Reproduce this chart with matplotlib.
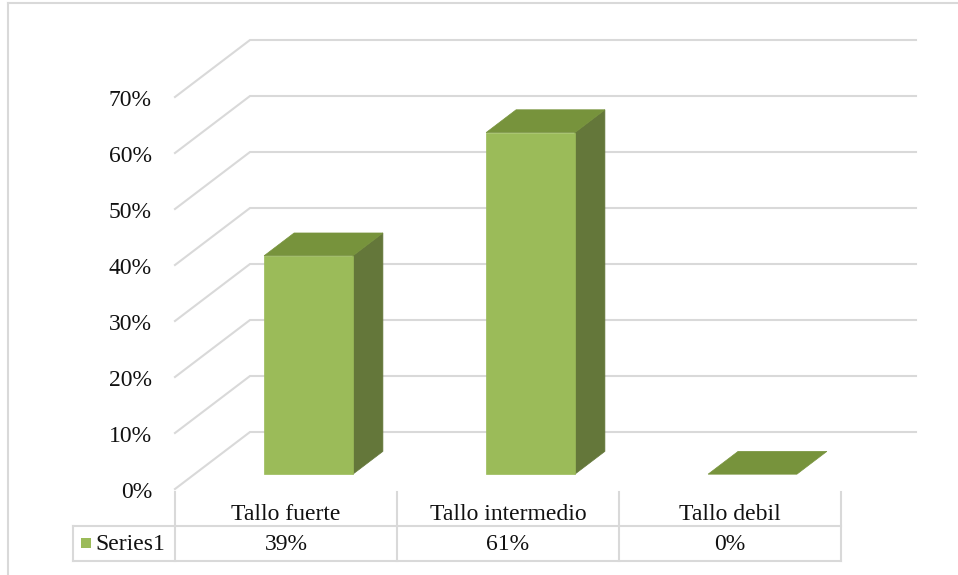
import numpy as np
import matplotlib.pyplot as plt
from matplotlib.patches import Polygon

categories = ['Tallo fuerte', 'Tallo intermedio', 'Tallo debil']
values = [0.39, 0.61, 0.0]
series_name = 'Series1'
ticks = [0.0, 0.1, 0.2, 0.3, 0.4, 0.5, 0.6, 0.7]

plt.rcParams['font.family'] = ['Liberation Serif', 'DejaVu Serif']

W, H = 958, 575
fig = plt.figure(figsize=(W / 100, H / 100), dpi=100)
# front plane of the plot: x 175..841 px, value 0 at y=489 px, 0.7 at y=97 px
ax = fig.add_axes([175 / W, (H - 489) / H, 666 / W, 392 / H])
ax.set_xlim(0, 3)
ax.set_ylim(0, 0.7)
ax.axis('off')

px_x = 3 / 666        # one pixel in x data units
px_y = 0.7 / 392      # one pixel in value units
depth = np.array([75 * px_x, 57 * px_y])   # full depth of the floor, oblique

grid_col = '#d9d9d9'
front_col = '#9bbb59'
top_col = '#77933c'
side_col = '#64773a'
txt_col = '#111111'
fs = 17


def at(x, v, d):
    return (x + d * depth[0], v + d * depth[1])


# gridlines: diagonal on the left wall, straight along the back wall
for t in ticks:
    pts = [at(0, t, 0), at(0, t, 1), at(3, t, 1)]
    xs, ys = zip(*pts)
    ax.plot(xs, ys, color=grid_col, lw=1.5, clip_on=False, zorder=1,
            solid_joinstyle='miter')
    ax.text(-23 * px_x, t - 3 * px_y, f'{t:.0%}', ha='right', va='center',
            fontsize=fs, color=txt_col)

# 3d columns
bw = 0.4
d1, d2 = 0.26, 0.66
for i, v in enumerate(values):
    x0 = i + 0.5 - bw / 2 + 3 * px_x
    x1 = x0 + bw
    faces = []
    if v > 0:
        faces.append(([at(x1, 0, d1), at(x1, 0, d2), at(x1, v, d2), at(x1, v, d1)], side_col))
        faces.append(([at(x0, 0, d1), at(x1, 0, d1), at(x1, v, d1), at(x0, v, d1)], front_col))
    faces.append(([at(x0, v, d1), at(x1, v, d1), at(x1, v, d2), at(x0, v, d2)], top_col))
    for verts, col in faces:
        ax.add_patch(Polygon(verts, closed=True, facecolor=col, edgecolor=col,
                             lw=0.5, clip_on=False, zorder=3))

# data table under the columns
y_top = -3 * px_y
y_mid = -37 * px_y
y_bot = -72 * px_y
x_leg = -102 * px_x
line_kw = dict(color=grid_col, lw=1.5, clip_on=False, zorder=1)
for k in range(4):
    ax.plot([k, k], [y_top, y_bot], **line_kw)
ax.plot([x_leg, 3], [y_mid, y_mid], **line_kw)
ax.plot([x_leg, 3], [y_bot, y_bot], **line_kw)
ax.plot([x_leg, x_leg], [y_mid, y_bot], **line_kw)

for i, (c, v) in enumerate(zip(categories, values)):
    ax.text(i + 0.5, -25 * px_y, c, ha='center', va='center',
            fontsize=fs, color=txt_col)
    ax.text(i + 0.5, -56 * px_y, f'{v:.0%}', ha='center', va='center',
            fontsize=fs, color=txt_col)

ax.add_patch(plt.Rectangle((x_leg + 8 * px_x, -59 * px_y),
                           10 * px_x, 10 * px_y, facecolor=front_col,
                           edgecolor='none', clip_on=False))
ax.text(x_leg + 22 * px_x, -56 * px_y, series_name, ha='left',
        va='center', fontsize=fs, color=txt_col)

# chart area border (top and left edges)
fig.add_artist(plt.Line2D([8 / W, 1], [1 - 3 / H, 1 - 3 / H], color=grid_col, lw=1.5))
fig.add_artist(plt.Line2D([8 / W, 8 / W], [0, 1 - 3 / H], color=grid_col, lw=1.5))

fig.savefig('out.png', dpi=100, facecolor='white')
